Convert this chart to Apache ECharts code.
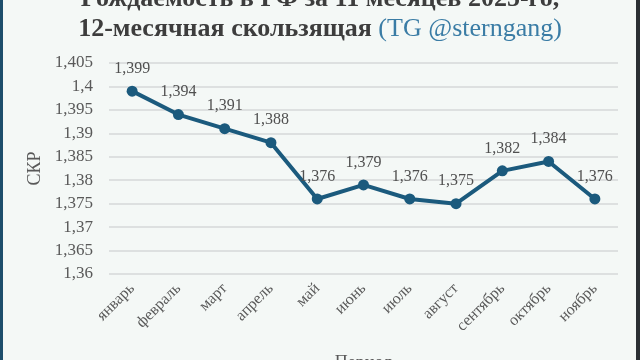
<!DOCTYPE html>
<html>
<head>
<meta charset="utf-8">
<script src="https://cdn.jsdelivr.net/npm/echarts@6/dist/echarts.min.js"></script>
<style>
html,body{margin:0;padding:0;background:#f4f8f6;}
#c{width:640px;height:360px;}
</style>
</head>
<body>
<div id="c"></div>
<script>
const months = ['январь','февраль','март','апрель','май','июнь','июль','август','сентябрь','октябрь','ноябрь'];
const tfr = [1.399, 1.394, 1.391, 1.388, 1.376, 1.379, 1.376, 1.375, 1.382, 1.384, 1.376];
const yMin = 1.36, yMax = 1.405, yStep = 0.005;

const fmt = v => parseFloat(v.toFixed(3)).toString().replace('.', ',');
const serif = '"Liberation Serif", "DejaVu Serif", serif';

const chart = echarts.init(document.getElementById('c'), null, {renderer: 'canvas'});
chart.setOption({
  backgroundColor: '#f4f8f6',
  animation: false,
  title: {
    left: 'center',
    top: -21,
    text: '{b|Рождаемость в РФ за 11 месяцев 2025-го,}\n{b|12-месячная скользящая }{c|(TG @sterngang)}',
    textStyle: {
      rich: {
        b: {fontFamily: serif, fontSize: 26, fontWeight: 'bold', color: '#3d3d3d', lineHeight: 30},
        c: {fontFamily: serif, fontSize: 26, fontWeight: 'normal', color: '#3a7ca5', lineHeight: 30}
      }
    }
  },
  graphic: [
    {type: 'rect', left: 0, top: 0, shape: {width: 3, height: 360}, style: {fill: '#1d4e6b'}},
    {type: 'rect', right: 0, top: 0, shape: {width: 4, height: 360}, style: {fill: '#2b2f33'}}
  ],
  grid: {left: 109, right: 22, top: 63, bottom: 86, outerBoundsMode: 'none', containLabel: false},
  xAxis: {
    type: 'category',
    data: months,
    boundaryGap: true,
    axisLine: {show: false},
    axisTick: {show: false},
    axisLabel: {rotate: 45, margin: 12, fontFamily: serif, fontSize: 16, color: '#595959', interval: 0},
    name: 'Период',
    nameLocation: 'middle',
    nameGap: 80,
    nameTextStyle: {fontFamily: serif, fontSize: 18, color: '#595959'}
  },
  yAxis: {
    type: 'value',
    min: yMin, max: yMax, interval: yStep,
    axisLine: {show: false},
    axisTick: {show: false},
    axisLabel: {formatter: fmt, fontFamily: serif, fontSize: 17, color: '#595959', margin: 16},
    splitLine: {lineStyle: {color: '#d6d9d8', width: 1.5}},
    name: 'СКР',
    nameLocation: 'middle',
    nameGap: 63,
    nameRotate: 90,
    nameTextStyle: {fontFamily: serif, fontSize: 18, color: '#595959'}
  },
  series: [{
    type: 'line',
    data: tfr,
    symbol: 'circle',
    symbolSize: 11,
    lineStyle: {color: '#1b5a7d', width: 4},
    itemStyle: {color: '#1b5a7d'},
    label: {
      show: true, position: 'top', distance: 9,
      formatter: p => p.value.toFixed(3).replace('.', ','),
      fontFamily: serif, fontSize: 16, color: '#505050'
    }
  }]
});
</script>
</body>
</html>
